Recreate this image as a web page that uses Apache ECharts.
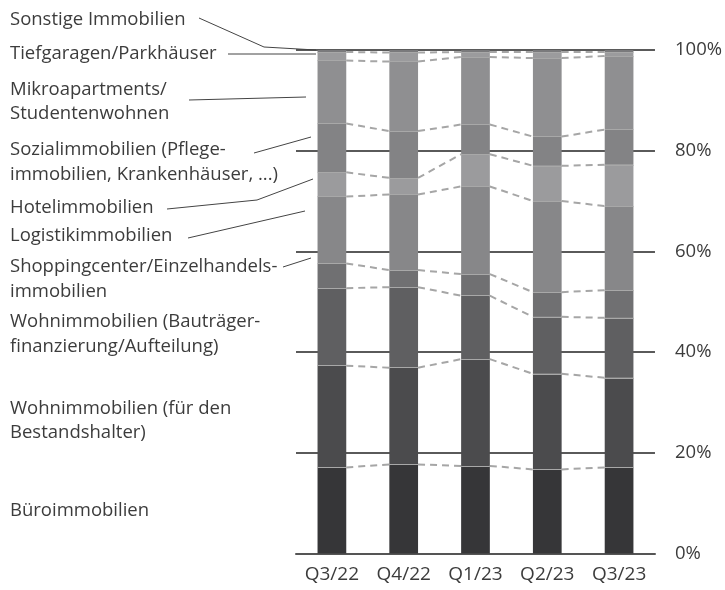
<!DOCTYPE html>
<html>
<head>
<meta charset="utf-8">
<script src="https://cdn.jsdelivr.net/npm/echarts@6/dist/echarts.min.js"></script>
<style>
  html, body { margin: 0; padding: 0; background: #fff; }
  #chart { width: 725px; height: 590px; }
</style>
</head>
<body>
<div id="chart"></div>
<script>
const categories = ['Q3/22', 'Q4/22', 'Q1/23', 'Q2/23', 'Q3/23'];
const yTicks = [0, 20, 40, 60, 80, 100];

// Anteile in %, von unten nach oben
const buero       = [17.1, 17.7, 17.4, 16.7, 17.1];
const bestand     = [20.2, 19.2, 21.2, 19.0, 17.8];
const bautraeger  = [15.4, 16.0, 12.6, 11.3, 11.9];
const shopping    = [4.9, 3.4, 4.3, 4.9, 5.5];
const logistik    = [13.3, 15.0, 17.4, 18.1, 16.7];
const hotel       = [4.8, 3.3, 6.4, 7.0, 8.2];
const sozial      = [9.7, 9.3, 5.9, 5.8, 7.0];
const mikro       = [12.5, 13.8, 13.4, 15.6, 14.6];
const tiefgaragen = [1.7, 1.8, 1.0, 1.2, 0.8];
const sonstige    = [0.4, 0.5, 0.4, 0.4, 0.4];

const segments = [buero, bestand, bautraeger, shopping, logistik, hotel, sozial, mikro, tiefgaragen, sonstige];
const segmentNames = ['Büroimmobilien', 'Wohnimmobilien (für den Bestandshalter)', 'Wohnimmobilien (Bauträgerfinanzierung/Aufteilung)',
  'Shoppingcenter/Einzelhandelsimmobilien', 'Logistikimmobilien', 'Hotelimmobilien', 'Sozialimmobilien',
  'Mikroapartments/Studentenwohnen', 'Tiefgaragen/Parkhäuser', 'Sonstige Immobilien'];
const colors = ['#363638', '#4b4b4d', '#5f5f61', '#707072', '#878789', '#9b9b9d', '#838385', '#8f8f91', '#9b9b9d', '#7a7a7c'];

const chart = echarts.init(document.getElementById('chart'));

// kumulierte Grenzen zwischen den Segmenten
const half = 0.2;
const dashData = [];
const edgeData = [];
let cum = categories.map(() => 0);
for (let s = 0; s < segments.length - 1; s++) {
  cum = cum.map((c, i) => c + segments[s][i]);
  for (let i = 0; i < categories.length; i++) {
    edgeData.push({ coords: [[i - half, cum[i]], [i + half, cum[i]]] });
    if (i < categories.length - 1) {
      dashData.push({ coords: [[i + half, cum[i]], [i + 1 - half, cum[i + 1]]] });
    }
  }
}

const font = '"Open Sans", sans-serif';
const txt = '#3c3c3c';
const labelLines = [
  ['Sonstige Immobilien', 20],
  ['Tiefgaragen/Parkhäuser', 54],
  ['Mikroapartments/', 90],
  ['Studentenwohnen', 114],
  ['Sozialimmobilien (Pflege-', 150],
  ['immobilien, Krankenhäuser, ...)', 175],
  ['Hotelimmobilien', 208],
  ['Logistikimmobilien', 236],
  ['Shoppingcenter/Einzelhandels-', 267],
  ['immobilien', 292],
  ['Wohnimmobilien (Bauträger-', 322],
  ['finanzierung/Aufteilung)', 347],
  ['Wohnimmobilien (für den', 409],
  ['Bestandshalter)', 433],
  ['Büroimmobilien', 511]
];
const leaders = [
  [[199, 18], [264, 47], [316, 50]],
  [[228, 54], [316, 54]],
  [[189, 100], [306, 97]],
  [[254, 153], [311, 137]],
  [[167, 209], [257, 200], [313, 179]],
  [[188, 238], [305, 211]],
  [[283, 267], [311, 258]]
];

const graphic = labelLines.map(([t, y]) => ({
  type: 'text', x: 10, y: y,
  style: { text: t, font: '18.5px ' + font, fill: txt, verticalAlign: 'middle' }
})).concat(leaders.map(p => ({
  type: 'polyline', shape: { points: p },
  style: { stroke: '#444', lineWidth: 1, fill: null }, z: 10
})));

chart.setOption({
  animation: false,
  grid: { left: 296, top: 50, width: 360, height: 503.5 },
  xAxis: [{
    type: 'category', data: categories,
    axisTick: { show: false },
    axisLine: { lineStyle: { color: '#555', width: 2 } },
    axisLabel: { color: txt, fontSize: 19, fontFamily: font, margin: 12 }
  }, {
    type: 'value', min: -0.5, max: 4.5, show: false
  }],
  yAxis: {
    type: 'value', min: 0, max: 100, interval: 20, position: 'right',
    axisLine: { show: false }, axisTick: { show: false },
    splitLine: { lineStyle: { color: '#5a5a5a', width: 2 } },
    axisLabel: { color: txt, fontSize: 18.5, fontFamily: font, margin: 20,
      formatter: v => yTicks.includes(v) ? v + '%' : '' }
  },
  graphic: graphic,
  series: segments.map((d, s) => ({
    name: segmentNames[s], type: 'bar', stack: 'a', data: d,
    barWidth: '40%', itemStyle: { color: colors[s] }, z: 2
  })).concat([{
    type: 'lines', coordinateSystem: 'cartesian2d', xAxisIndex: 1, yAxisIndex: 0,
    data: dashData, silent: true, z: 3,
    lineStyle: { color: '#a6a6a6', width: 2, type: [7, 5], opacity: 1 }
  }, {
    type: 'lines', coordinateSystem: 'cartesian2d', xAxisIndex: 1, yAxisIndex: 0,
    data: edgeData, silent: true, z: 3,
    lineStyle: { color: '#a8a8a8', width: 1, opacity: 1 }
  }])
});
</script>
</body>
</html>
